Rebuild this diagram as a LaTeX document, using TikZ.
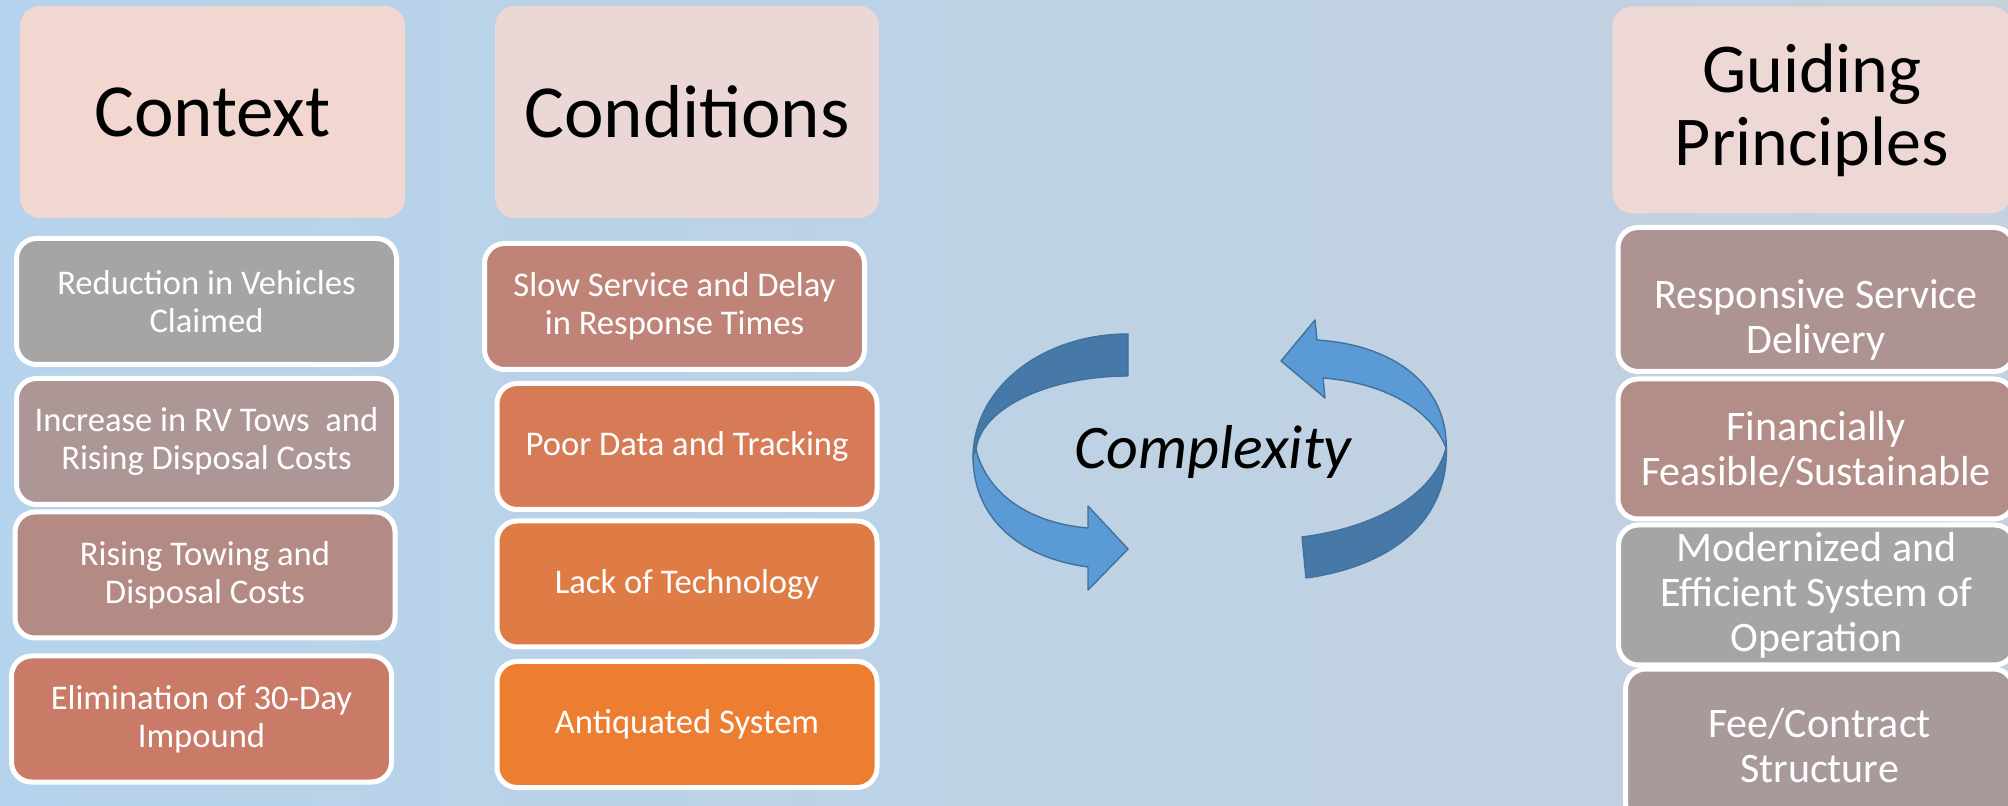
\documentclass[tikz,border=0pt]{standalone}
\usepackage{fontspec}
\setmainfont{Carlito}
\definecolor{bgleft}{RGB}{181,211,236}
\definecolor{bgright}{RGB}{197,209,222}
\definecolor{hdrA}{RGB}{242,214,208}
\definecolor{hdrB}{RGB}{235,215,214}
\definecolor{hdrC}{RGB}{237,216,214}
\definecolor{cGray}{RGB}{165,165,165}
\definecolor{cMauve}{RGB}{173,150,150}
\definecolor{cRose}{RGB}{180,138,132}
\definecolor{cBrick}{RGB}{201,123,103}
\definecolor{dSlow}{RGB}{191,132,119}
\definecolor{dPoor}{RGB}{214,123,86}
\definecolor{dLack}{RGB}{223,124,69}
\definecolor{dOld}{RGB}{237,125,49}
\definecolor{gResp}{RGB}{173,147,146}
\definecolor{gFin}{RGB}{179,141,135}
\definecolor{gMod}{RGB}{165,165,165}
\definecolor{gFee}{RGB}{168,154,154}
\definecolor{arrDark}{RGB}{70,121,168}
\definecolor{arrLight}{RGB}{91,155,213}
\definecolor{arrLine}{RGB}{65,113,156}
\begin{document}
\begin{tikzpicture}[x=0.5pt,y=-0.5pt,
  hdr/.style={rounded corners=10pt, inner sep=0pt, align=center, text=black,
    font=\fontsize{37.5}{38}\selectfont},
  item/.style={draw=white, line width=2.5pt, rounded corners=10pt, inner sep=0pt,
    align=center, text=white, font=\fontsize{17.3}{19}\selectfont,
    minimum width=190pt, minimum height=63pt},
  gitem/.style={item, font=\fontsize{21}{22.5}\selectfont, minimum width=198pt},
  gtext/.style={inner sep=0pt, align=center, text=white, font=\fontsize{21}{22.5}\selectfont},
  band/.style={draw=arrLine, line width=0.7pt, line join=round}
]
% background
\shade[left color=bgleft, right color=bgright] (0,0) rectangle (2008,806);
\useasboundingbox (0,0) rectangle (2008,806);

% column headers
\node[hdr, fill=hdrA, minimum width=192.5pt, minimum height=106pt] (hContext) at (212.5,112) {Context};
\node[hdr, fill=hdrB, minimum width=192pt, minimum height=106pt] (hCond) at (687,112) {Conditions};
\node[hdr, fill=hdrC, minimum width=199.5pt, minimum height=103.5pt,
  font=\fontsize{35}{36.5}\selectfont] (hGuide) at (1812,110) {Guiding\\Principles};

% context column
\node[item, fill=cGray]  (c1) at (206.5,301.5) {Reduction in Vehicles\\Claimed};
\node[item, fill=cMauve] (c2) at (206.5,441.5) {Increase in RV Tows\ \ and\\Rising Disposal Costs};
\node[item, fill=cRose]  (c3) at (205,575) {Rising Towing and\\Disposal Costs};
\node[item, fill=cBrick] (c4) at (201.5,719) {Elimination of 30-Day\\Impound};

% conditions column
\node[item, fill=dSlow] (d1) at (674.5,306.5) {Slow Service and Delay\\in Response Times};
\node[item, fill=dPoor] (d2) at (687,446.5) {Poor Data and Tracking};
\node[item, fill=dLack] (d3) at (687,584) {Lack of Technology};
\node[item, fill=dOld]  (d4) at (687,724.5) {Antiquated System};

% guiding principles column
\node[gitem, fill=gResp, minimum height=72pt] (g1) at (1816,299.5) {};
\node[gtext] (g1t) at (1816,320) {Responsive Service\\Delivery};
\node[gitem, fill=gFin, minimum height=70pt] (g2) at (1816,449) {Financially\\Feasible/Sustainable};
\node[gitem, fill=gMod, minimum height=70pt] (g3) at (1816.5,595) {Modernized and\\Efficient System of\\Operation};
\node[gitem, fill=gFee, minimum width=194pt, minimum height=77pt] (g4) at (1819.5,746) {Fee/Contract\\Structure};

% circular arrows around the centre label
% left arrow: dark back face on top, light front face with head at bottom
\filldraw[band, fill=arrDark]
  (1128,334) -- (1128,376)
  .. controls (1045,376) and (977,411) .. (976,452)
  -- (973,458)
  .. controls (973,388) and (1042,334) .. (1128,334) -- cycle;
\filldraw[band, fill=arrLight]
  (976,450) .. controls (988,495) and (1030,523) .. (1088,528)
  -- (1088,506) -- (1128,549) -- (1088,590) -- (1088,567)
  .. controls (1015,557) and (973,515) .. (973,456) -- cycle;
% right arrow: light front face with head at top, dark back face below
\filldraw[band, fill=arrLight]
  (1446,448) .. controls (1432,410) and (1385,383) .. (1323,378)
  -- (1325,398) -- (1281,361) -- (1315,320) -- (1317,340)
  .. controls (1395,345) and (1443,385) .. (1446,440) -- cycle;
\filldraw[band, fill=arrDark]
  (1446,440) .. controls (1452,520) and (1392,566) .. (1306,578)
  -- (1302,537)
  .. controls (1380,527) and (1435,492) .. (1446,448) -- cycle;

\node[inner sep=0pt, font=\itshape\fontsize{31}{31}\selectfont] (cplx) at (1213,452) {Complexity};
\end{tikzpicture}
\end{document}
